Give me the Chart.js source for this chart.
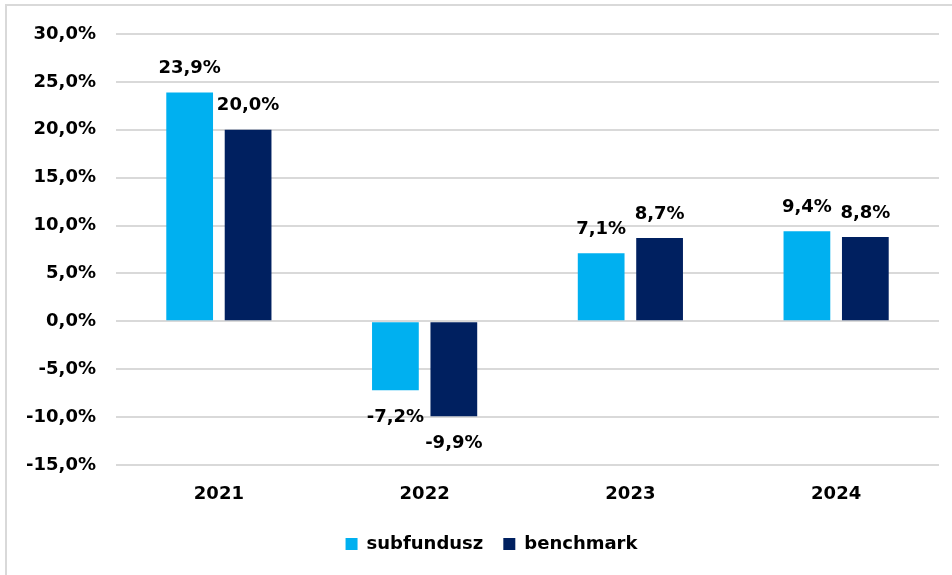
<!DOCTYPE html>
<html>
<head>
<meta charset="utf-8">
<script src="https://cdn.jsdelivr.net/npm/chart.js@4/dist/chart.umd.min.js"></script>
<style>
  html, body { margin:0; padding:0; background:#fff; overflow:hidden; }
  #wrap { position:absolute; left:0; top:0; width:952px; height:575px; }
  #frame { position:absolute; left:5px; top:4px; width:1000px; height:1000px; border:2px solid #d9d9d9; box-sizing:border-box; }
  canvas { position:absolute; left:0; top:0; }
</style>
</head>
<body>
<div id="wrap">
  <div id="frame"></div>
  <canvas id="c" width="952" height="575"></canvas>
</div>
<script>
const categories = ['2021', '2022', '2023', '2024'];
const subfundusz = [23.9, -7.2, 7.1, 9.4];
const benchmark = [20.0, -9.9, 8.7, 8.8];
const seriesNames = ['subfundusz', 'benchmark'];
const yMin = -15, yMax = 30, yStep = 5;

const FONT = '"DejaVu Sans"';
const fmt = v => v.toFixed(1).replace('.', ',') + '%';

const labelPlugin = {
  id: 'barLabels',
  afterDatasetsDraw(chart) {
    const ctx = chart.ctx;
    ctx.save();
    ctx.font = 'bold 18px ' + FONT;
    ctx.fillStyle = '#000';
    ctx.textAlign = 'center';
    ctx.textBaseline = 'middle';
    chart.data.datasets.forEach((ds, di) => {
      const meta = chart.getDatasetMeta(di);
      meta.data.forEach((bar, i) => {
        const v = ds.data[i];
        const y = v >= 0 ? bar.y - 24 : bar.y + 27;
        ctx.fillText(fmt(v), bar.x, y);
      });
    });
    ctx.restore();
  }
};

const legendShift = {
  id: 'legendShift',
  afterLayout(chart) {
    if (chart.legend) { chart.legend.left += 22; chart.legend.right += 22; }
  }
};

new Chart(document.getElementById('c'), {
  type: 'bar',
  data: {
    labels: categories,
    datasets: [
      { label: seriesNames[0], data: subfundusz, backgroundColor: '#00B0F0' },
      { label: seriesNames[1], data: benchmark, backgroundColor: '#002060' }
    ]
  },
  options: {
    responsive: false,
    animation: false,
    devicePixelRatio: 1,
    categoryPercentage: 0.568,
    barPercentage: 0.80,
    layout: { padding: { left: 0, right: 13, top: 34, bottom: 12 } },
    scales: {
      x: {
        grid: { display: false },
        border: { display: false },
        ticks: { color: '#000', font: { family: FONT, size: 18, weight: 'bold' }, padding: 11 },
        afterFit(s) { s.height = 50; }
      },
      y: {
        min: yMin, max: yMax,
        grid: { color: '#d9d9d9', lineWidth: 2, drawTicks: false },
        border: { display: false },
        ticks: { stepSize: yStep, color: '#000', font: { family: FONT, size: 18, weight: 'bold' }, padding: 20, callback: v => fmt(v) },
        afterFit(s) { s.width = 116; }
      }
    },
    plugins: {
      legend: {
        position: 'bottom',
        labels: { color: '#000', font: { family: FONT, size: 18, weight: 'bold' }, boxWidth: 12, boxHeight: 12, padding: 20 }
      },
      tooltip: { enabled: false }
    }
  },
  plugins: [labelPlugin, legendShift]
});
</script>
</body>
</html>
